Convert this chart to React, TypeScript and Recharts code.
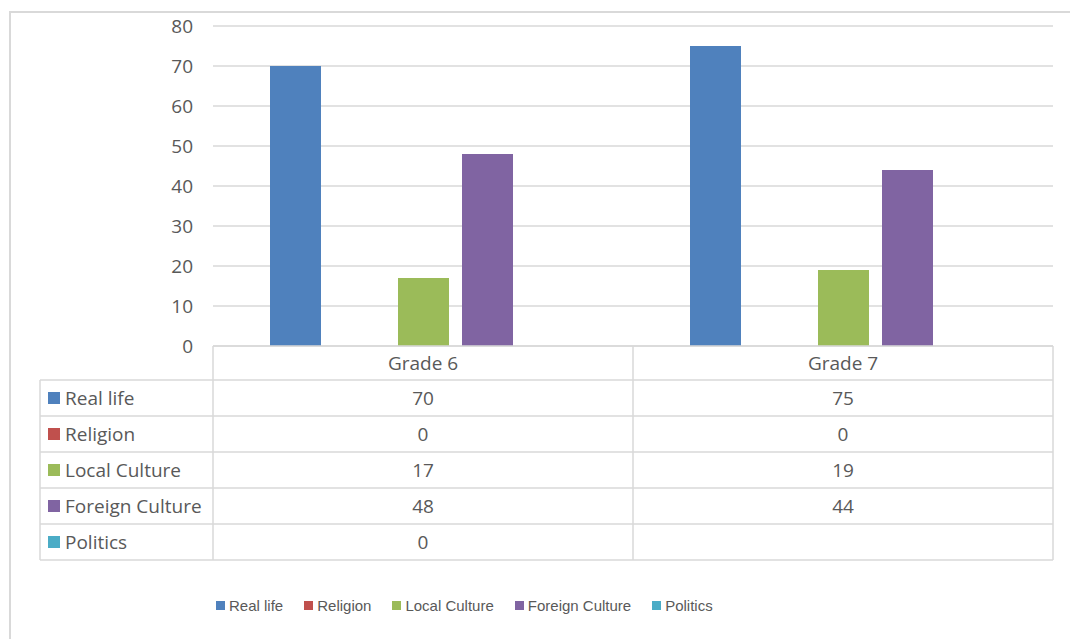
import React from 'react';
import { BarChart, Bar, XAxis, YAxis, CartesianGrid, Legend } from 'recharts';

const categories = ['Grade 6', 'Grade 7'];
const seriesNames = ['Real life', 'Religion', 'Local Culture', 'Foreign Culture', 'Politics'];
const realLife = [70, 75];
const religion = [0, 0];
const localCulture = [17, 19];
const foreignCulture = [48, 44];
const politics: (number | null)[] = [0, null];
const seriesColors = ['#4F81BD', '#C0504D', '#9BBB59', '#8064A2', '#4BACC6'];
const yTicks = [0, 10, 20, 30, 40, 50, 60, 70, 80];

const seriesValues = [realLife, religion, localCulture, foreignCulture, politics];

const data = categories.map((c, i) => {
  const row: Record<string, string | number | null> = { name: c };
  seriesNames.forEach((s, k) => {
    row[s] = seriesValues[k][i];
  });
  return row;
});

const TEXT = '#595959';
const LINE = '#D9D9D9';
const FONT = "'Open Sans', 'Liberation Sans', sans-serif";
const HEADER_H = 34;
const ROW_H = 36;
const LABEL_COL_W = 173;

const TableTick = (props: any) => {
  const { x, y, payload, index } = props;
  const off = payload && payload.offset ? payload.offset : 210;
  const left = x - off;
  const right = x + off;
  const bottom = y + HEADER_H + ROW_H * seriesNames.length;
  const ci = categories.indexOf(payload.value);
  const rows = seriesNames.map((_, k) => k);
  return (
    <g>
      <line x1={left} x2={right} y1={y} y2={y} stroke={LINE} strokeWidth={1.5} />
      {[0, ...rows.map((k) => k + 1)].map((k) => (
        <line key={'h' + k} x1={left} x2={right} y1={y + HEADER_H + k * ROW_H} y2={y + HEADER_H + k * ROW_H} stroke={LINE} strokeWidth={1.5} />
      ))}
      <line x1={right} x2={right} y1={y} y2={bottom} stroke={LINE} strokeWidth={1.5} />
      {index === 0 && <line x1={left} x2={left} y1={y} y2={bottom} stroke={LINE} strokeWidth={1.5} />}
      <text x={x} y={y + 17} textAnchor="middle" dominantBaseline="central" fill={TEXT} fontSize={19} fontFamily={FONT}>
        {payload.value}
      </text>
      {rows.map((k) => {
        const v = seriesValues[k][ci];
        return (
          <text key={'v' + k} x={x} y={y + HEADER_H + k * ROW_H + ROW_H / 2} textAnchor="middle" dominantBaseline="central" fill={TEXT} fontSize={19} fontFamily={FONT}>
            {v === null || v === undefined ? '' : v}
          </text>
        );
      })}
      {index === 0 && (
        <g>
          {[0, ...rows.map((k) => k + 1)].map((k) => (
            <line key={'lh' + k} x1={left - LABEL_COL_W} x2={left} y1={y + HEADER_H + k * ROW_H} y2={y + HEADER_H + k * ROW_H} stroke={LINE} strokeWidth={1.5} />
          ))}
          <line x1={left - LABEL_COL_W} x2={left - LABEL_COL_W} y1={y + HEADER_H} y2={bottom} stroke={LINE} strokeWidth={1.5} />
          {rows.map((k) => {
            const cy = y + HEADER_H + k * ROW_H + ROW_H / 2;
            return (
              <g key={'lab' + k}>
                <rect x={left - LABEL_COL_W + 8} y={cy - 6} width={12} height={12} fill={seriesColors[k]} />
                <text x={left - LABEL_COL_W + 25} y={cy} dominantBaseline="central" fill={TEXT} fontSize={19} fontFamily={FONT}>
                  {seriesNames[k]}
                </text>
              </g>
            );
          })}
        </g>
      )}
    </g>
  );
};

const renderLegend = () => (
  <div style={{ display: 'flex', alignItems: 'center', fontFamily: "'Liberation Sans', sans-serif", fontSize: 15, color: TEXT, whiteSpace: 'nowrap' }}>
    {seriesNames.map((s, k) => (
      <div key={s} style={{ display: 'flex', alignItems: 'center', marginRight: 21 }}>
        <div style={{ width: 9, height: 9, background: seriesColors[k], marginRight: 4 }} />
        <span>{s}</span>
      </div>
    ))}
  </div>
);

export default function App() {
  return (
    <div style={{ position: 'relative', width: 1070, height: 631, overflow: 'hidden', background: '#fff' }}>
      <div style={{ position: 'absolute', left: 1, top: 3, width: 1080, height: 640, borderLeft: '2px solid #D9D9D9', borderTop: '2px solid #D9D9D9', boxSizing: 'border-box' }} />
      <BarChart
        width={1070}
        height={631}
        data={data}
        margin={{ top: 18, right: 25, bottom: 79, left: 145 }}
        barGap={13}
        barSize={51}
      >
        <CartesianGrid vertical={false} stroke={LINE} strokeWidth={1.5} />
        <XAxis
          dataKey="name"
          height={214}
          axisLine={false}
          tickLine={false}
          tickSize={0}
          tickMargin={0}
          interval={0}
          tick={<TableTick />}
        />
        <YAxis
          width={60}
          domain={[0, 80]}
          ticks={yTicks}
          axisLine={false}
          tickLine={false}
          tickSize={0}
          tickMargin={20}
          tick={{ fill: TEXT, fontSize: 19, fontFamily: FONT }}
        />
        <Legend
          layout="horizontal"
          verticalAlign="middle"
          align="center"
          wrapperStyle={{ position: 'absolute', left: 208, top: 589, width: 'auto', height: 20 }}
          content={renderLegend}
        />
        {seriesNames.map((s, k) => (
          <Bar key={s} dataKey={s} fill={seriesColors[k]} isAnimationActive={false} />
        ))}
      </BarChart>
    </div>
  );
}
